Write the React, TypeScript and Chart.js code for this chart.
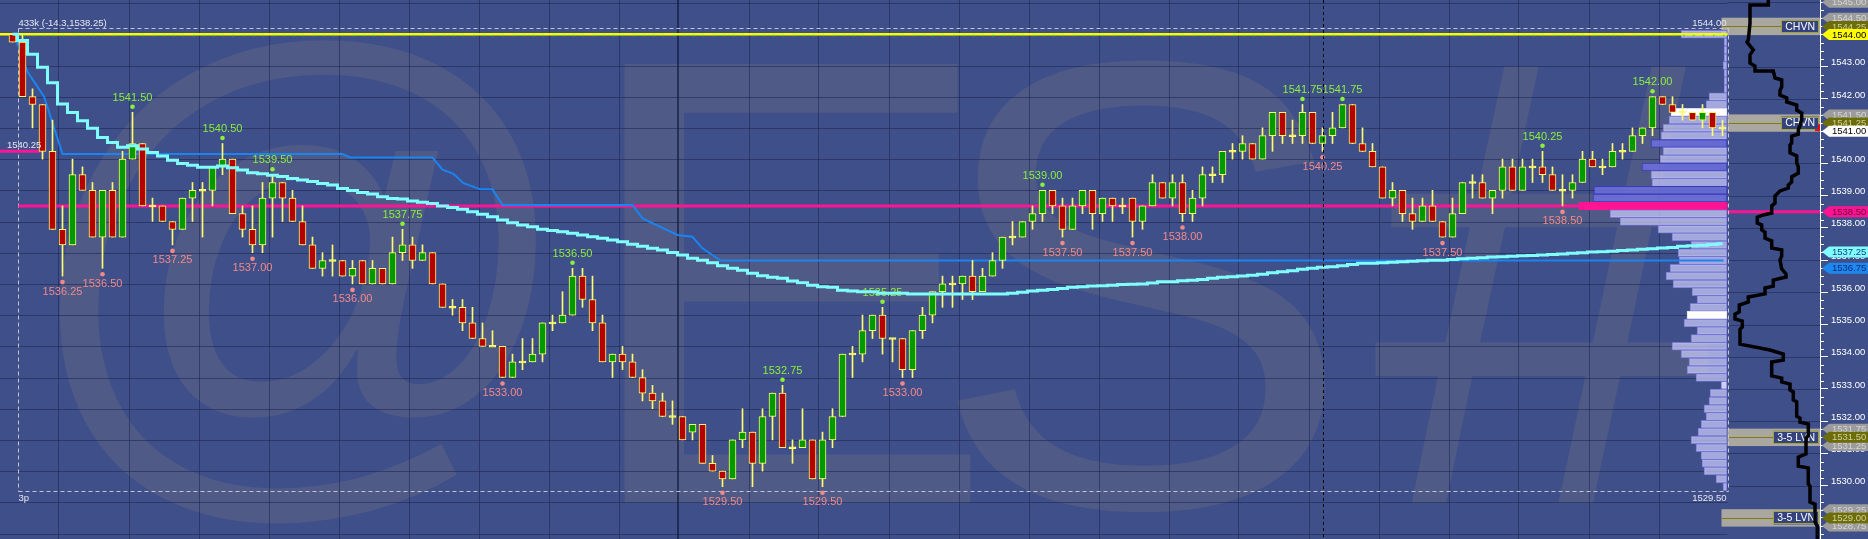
import React, { useEffect, useRef } from "react";
import { Chart, registerables } from "chart.js";
Chart.register(...registerables);

// ---------------- data ----------------
const opens = [
  1544, 1543.75, 1542, 1541.75, 1540.25, 1537.75, 1537.25, 1539.5, 1539, 1537.5,
  1539, 1537.5, 1540, 1540.5, 1538.5, 1538.5, 1538, 1537.75, 1538.75, 1539,
  1539, 1539.75, 1540, 1538.25, 1537.75, 1537.25, 1538.75, 1539.25, 1538.75, 1538,
  1537.25, 1536.5, 1536.75, 1536.75, 1536.25, 1536.75, 1536, 1536.5, 1536, 1537,
  1537.25, 1536.75, 1537, 1536, 1535.25, 1535.25, 1534.75, 1534.25, 1534, 1534,
  1533, 1533.5, 1533.5, 1533.75, 1534.75, 1534.75, 1535, 1536.25, 1535.5, 1534.75,
  1533.5, 1533.75, 1533.5, 1533, 1532.5, 1532.25, 1531.75, 1531.75, 1531.25, 1531.5,
  1530.25, 1530, 1529.75, 1531, 1531.25, 1530.25, 1531.75, 1532.5, 1530.75, 1530.75,
  1531, 1529.75, 1531, 1531.75, 1533.75, 1533.75, 1534.5, 1535, 1534.25, 1534.25,
  1533.25, 1534.5, 1535, 1535.75, 1536, 1536, 1536.25, 1535.75, 1536.25, 1536.75,
  1537.5, 1537.5, 1538, 1538.25, 1539, 1538.5, 1537.75, 1538.5, 1539, 1538.25,
  1538.75, 1538.5, 1538.75, 1538, 1538.5, 1539.25, 1538.75, 1539.25, 1538.25, 1538.75,
  1539.5, 1539.5, 1540.25, 1540.25, 1540.5, 1540, 1540.75, 1541.5, 1540.75, 1540.75,
  1541.5, 1540.5, 1540.75, 1541, 1541.75, 1540.5, 1540.25, 1539.75, 1538.75, 1539,
  1538.25, 1538, 1538.5, 1538, 1537.5, 1538.25, 1539.25, 1539.25, 1538.75, 1539,
  1539.75, 1539, 1539.75, 1539.75, 1539.5, 1539, 1539, 1539.25, 1540, 1539.75,
  1539.75, 1540.25, 1540.25, 1540.75, 1541, 1542, 1541.75, 1541.5, 1541.5, 1541.25,
  1541.5, 1541,
];
const highs = [
  1544, 1544, 1542.25, 1541.75, 1541.25, 1538.5, 1540, 1539.75, 1539.25, 1539,
  1539.25, 1540.25, 1541.5, 1540.5, 1538.75, 1538.5, 1538, 1538.75, 1539.25, 1539.25,
  1539.75, 1540.5, 1540, 1538.5, 1538.5, 1539.25, 1539.5, 1539.25, 1539, 1538.5,
  1537.5, 1537, 1537.25, 1536.75, 1536.75, 1536.75, 1536.75, 1536.5, 1537.5, 1537.75,
  1537.5, 1537.25, 1537, 1536, 1535.5, 1535.5, 1535.25, 1534.75, 1534.5, 1534,
  1533.75, 1534.25, 1534.25, 1534.75, 1535, 1535.75, 1536.5, 1536.5, 1536.25, 1535,
  1533.75, 1534, 1533.75, 1533.25, 1532.75, 1532.5, 1532.25, 1531.75, 1531.5, 1531.5,
  1530.5, 1530, 1531, 1532, 1531.25, 1532, 1532.5, 1532.75, 1531, 1532,
  1531, 1531.25, 1532, 1533.75, 1534, 1535, 1535, 1535.25, 1534.25, 1534.25,
  1534.5, 1535.25, 1535.75, 1536.25, 1536.25, 1536.25, 1536.75, 1536.5, 1537, 1537.5,
  1538, 1538, 1538.5, 1539, 1539, 1538.75, 1538.75, 1539, 1539, 1538.75,
  1538.75, 1538.75, 1538.75, 1538.5, 1539.5, 1539.25, 1539.5, 1539.5, 1539, 1539.75,
  1539.75, 1540.25, 1540.5, 1540.75, 1540.5, 1541, 1541.5, 1541.5, 1541.25, 1541.75,
  1541.5, 1541, 1541.5, 1541.75, 1541.75, 1541, 1540.5, 1539.75, 1539.25, 1539,
  1538.75, 1538.75, 1539, 1538, 1538.75, 1539.25, 1539.5, 1539.5, 1539, 1540,
  1540, 1540, 1540, 1540.25, 1539.75, 1539.5, 1539.5, 1540.25, 1540.25, 1540,
  1540.5, 1540.5, 1541, 1541, 1542, 1542, 1542, 1541.75, 1541.5, 1541.75,
  1541.5, 1541.25,
];
const lows = [
  1543.75, 1542, 1541, 1540, 1537.75, 1536.25, 1537.25, 1539, 1537.5, 1536.5,
  1537.5, 1537.5, 1540, 1538.5, 1538, 1538, 1537.25, 1537.75, 1538, 1537.5,
  1538.5, 1539.5, 1538.25, 1537.5, 1537, 1537, 1537.5, 1538, 1538, 1537.25,
  1536.5, 1536.25, 1536.25, 1536.25, 1536, 1536, 1536, 1536, 1536, 1536.75,
  1536.5, 1536.75, 1536, 1535.25, 1535, 1534.5, 1534.25, 1534, 1534, 1533,
  1533, 1533.25, 1533.5, 1533.5, 1534.5, 1534.75, 1535, 1535.25, 1534.5, 1533.5,
  1533, 1533.25, 1533, 1532.25, 1532, 1531.75, 1531.5, 1531, 1531, 1530.25,
  1530, 1529.5, 1529.75, 1530.75, 1529.5, 1530, 1531, 1530.75, 1530.25, 1530.75,
  1529.75, 1529.5, 1530.75, 1531.75, 1533, 1533.5, 1534.25, 1533.75, 1533.5, 1533,
  1533, 1534.25, 1534.75, 1535.25, 1535.25, 1535.5, 1535.5, 1535.75, 1536.25, 1536.5,
  1537.25, 1537.5, 1537.75, 1538, 1538.25, 1537.5, 1537.75, 1538.25, 1537.75, 1538,
  1538, 1538.25, 1537.5, 1537.75, 1538.5, 1538.75, 1538.5, 1538, 1538, 1538.5,
  1539.25, 1539.25, 1540, 1540, 1540, 1540, 1540.25, 1540.5, 1540.5, 1540.5,
  1540.5, 1540.25, 1540.5, 1541, 1540.5, 1540.25, 1539.75, 1538.75, 1538.5, 1538,
  1537.75, 1538, 1538, 1537.5, 1537.5, 1538.25, 1538.75, 1538.75, 1538.25, 1538.75,
  1539, 1539, 1539.25, 1539.25, 1539, 1538.5, 1538.75, 1539.25, 1539.75, 1539.5,
  1539.75, 1540, 1540.25, 1540.5, 1540.75, 1541.75, 1541.5, 1541.25, 1541.25, 1541,
  1540.75, 1540.75,
];
const closes = [
  1543.75, 1542, 1541.75, 1540.25, 1537.75, 1537.25, 1539.5, 1539, 1537.5, 1539,
  1537.5, 1540, 1540.5, 1538.5, 1538.5, 1538, 1537.75, 1538.75, 1539, 1539,
  1539.75, 1540, 1538.25, 1537.75, 1537.25, 1538.75, 1539.25, 1538.75, 1538, 1537.25,
  1536.5, 1536.75, 1536.75, 1536.25, 1536.5, 1536, 1536.5, 1536, 1537, 1537.25,
  1536.75, 1537, 1536, 1535.25, 1535.25, 1534.75, 1534.25, 1534, 1534, 1533,
  1533.5, 1533.5, 1533.75, 1534.75, 1534.75, 1535, 1536.25, 1535.5, 1534.75, 1533.5,
  1533.75, 1533.5, 1533, 1532.5, 1532.25, 1531.75, 1531.75, 1531, 1531.5, 1530.25,
  1530, 1529.75, 1531, 1531.25, 1530.25, 1531.75, 1532.5, 1530.75, 1530.75, 1531,
  1529.75, 1531, 1531.75, 1533.75, 1533.75, 1534.5, 1535, 1534.25, 1534.25, 1533.25,
  1534.5, 1535, 1535.75, 1536, 1536, 1536.25, 1535.75, 1536.25, 1536.75, 1537.5,
  1537.5, 1538, 1538.25, 1539, 1538.5, 1537.75, 1538.5, 1539, 1538.25, 1538.75,
  1538.5, 1538.5, 1538, 1538.5, 1539.25, 1538.75, 1539.25, 1538.25, 1538.75, 1539.5,
  1539.5, 1540.25, 1540.25, 1540.5, 1540, 1540.75, 1541.5, 1540.75, 1540.75, 1541.5,
  1540.5, 1540.75, 1541, 1541.75, 1540.5, 1540.25, 1539.75, 1538.75, 1539, 1538.25,
  1538, 1538.5, 1538, 1537.5, 1538.25, 1539.25, 1539.25, 1538.75, 1539, 1539.75,
  1539, 1539.75, 1539.75, 1539.5, 1539, 1539, 1539.25, 1540, 1539.75, 1539.75,
  1540.25, 1540.25, 1540.75, 1541, 1542, 1541.75, 1541.5, 1541.5, 1541.25, 1541.5,
  1541, 1541,
];

// VWAP (cyan stepped line), one value per bar
const vwap = [
  1544.0, 1543.8, 1543.36, 1542.94, 1542.45, 1541.77, 1541.49, 1541.23, 1540.99, 1540.69,
  1540.53, 1540.38, 1540.43, 1540.32, 1540.21, 1540.1, 1539.96, 1539.86, 1539.8, 1539.74,
  1539.74, 1539.78, 1539.72, 1539.65, 1539.56, 1539.53, 1539.48, 1539.44, 1539.38, 1539.33,
  1539.28, 1539.22, 1539.17, 1539.06, 1538.99, 1538.93, 1538.88, 1538.79, 1538.74, 1538.72,
  1538.66, 1538.62, 1538.58, 1538.5, 1538.45, 1538.39, 1538.31, 1538.23, 1538.15, 1538.05,
  1537.96, 1537.89, 1537.83, 1537.75, 1537.71, 1537.67, 1537.62, 1537.57, 1537.51, 1537.46,
  1537.41, 1537.35, 1537.27, 1537.21, 1537.14, 1537.09, 1537.01, 1536.93, 1536.82, 1536.76,
  1536.68, 1536.58, 1536.5, 1536.44, 1536.34, 1536.26, 1536.21, 1536.18, 1536.09, 1536.04,
  1535.96, 1535.91, 1535.89, 1535.8, 1535.77, 1535.75, 1535.75, 1535.7, 1535.7, 1535.7,
  1535.68, 1535.68, 1535.68, 1535.68, 1535.68, 1535.68, 1535.68, 1535.68, 1535.68, 1535.68,
  1535.7, 1535.73, 1535.77, 1535.8, 1535.82, 1535.85, 1535.89, 1535.91, 1535.93, 1535.94,
  1535.96, 1535.98, 1535.99, 1536.0, 1536.03, 1536.07, 1536.07, 1536.1, 1536.12, 1536.14,
  1536.18, 1536.21, 1536.23, 1536.25, 1536.28, 1536.31, 1536.36, 1536.39, 1536.42, 1536.47,
  1536.5, 1536.53, 1536.55, 1536.58, 1536.62, 1536.66, 1536.66, 1536.68, 1536.69, 1536.71,
  1536.73, 1536.74, 1536.76, 1536.76, 1536.78, 1536.81, 1536.82, 1536.84, 1536.86, 1536.87,
  1536.89, 1536.9, 1536.91, 1536.93, 1536.94, 1536.96, 1536.98, 1537.0, 1537.02, 1537.03,
  1537.05, 1537.07, 1537.09, 1537.11, 1537.13, 1537.15, 1537.17, 1537.21, 1537.22, 1537.24,
  1537.26, 1537.29,
];

// blue developing level line (bar index, price)
const blueIdx = [0.16, 1.5, 3.16, 5.0, 33.0, 33.8, 42.0, 43.0, 44.1, 45.1, 46.8, 48.0, 49.0, 62.0, 63.0, 66.5, 68.0, 69.0, 70.8, 171.1];
const bluePrice = [1544.0, 1542.8, 1542.0, 1540.16, 1540.16, 1540.05, 1540.05, 1539.66, 1539.53, 1539.23, 1539.03, 1539.03, 1538.53, 1538.53, 1538.1, 1537.57, 1537.51, 1537.14, 1536.75, 1536.75];

// horizontal reference levels
const overnightHigh = 1544.0;
const pocLevel = 1538.5;
const prevClose = 1540.25;

// swing labels
const highIdx = [12, 21, 26, 39, 56, 77, 87, 103, 129, 133, 153, 164];
const highVal = [1541.5, 1540.5, 1539.5, 1537.75, 1536.5, 1532.75, 1535.25, 1539.0, 1541.75, 1541.75, 1540.25, 1542.0];
const lowIdx = [5, 9, 16, 24, 34, 49, 71, 81, 89, 105, 112, 117, 131, 143, 155];
const lowVal = [1536.25, 1536.5, 1537.25, 1537.0, 1536.0, 1533.0, 1529.5, 1529.5, 1533.0, 1537.5, 1537.5, 1538.0, 1540.25, 1537.5, 1538.5];

// volume profile
const profPrices = [
  1544.0, 1543.75, 1543.5, 1543.25, 1543.0, 1542.75, 1542.5, 1542.25, 1542.0, 1541.75,
  1541.5, 1541.25, 1541.0, 1540.75, 1540.5, 1540.25, 1540.0, 1539.75, 1539.5, 1539.25,
  1539.0, 1538.75, 1538.5, 1538.25, 1538.0, 1537.75, 1537.5, 1537.25, 1537.0, 1536.75,
  1536.5, 1536.25, 1536.0, 1535.75, 1535.5, 1535.25, 1535.0, 1534.75, 1534.5, 1534.25,
  1534.0, 1533.75, 1533.5, 1533.25, 1533.0, 1532.75, 1532.5, 1532.25, 1532.0, 1531.75,
  1531.5, 1531.25, 1531.0, 1530.75, 1530.5, 1530.25, 1530.0, 1529.75, 1529.5,
];
const profVol = [
  46, 3, 3, 3, 4, 3, 3, 3, 18, 21,
  56, 58, 64, 66, 76, 64, 67, 85, 76, 75,
  133, 134, 148, 117, 107, 69, 55, 36, 49, 48,
  57, 61, 54, 35, 30, 37, 40, 43, 30, 36,
  55, 46, 38, 40, 31, 6, 17, 18, 23, 21,
  26, 29, 36, 31, 26, 25, 23, 11, 4,
];
const profDarkLevels = [1540.5, 1539.75, 1539.0, 1538.75];
const profWhiteLevels = [1541.5, 1535.0];
const profPaleLevels = [1532.75];

// TPO outline in the right panel (width count, price)
const tpoWidth = [
  41.3, 41.3, 23, 23, 21.3, 20, 26.3, 23, 23, 28, 28, 46.3, 48, 54.7, 54.7, 53, 53, 59.7, 59.7, 69.7,
  69.7, 74.7, 74.7, 73, 71.3, 71.3, 64.7, 64.7, 63, 63, 69.7, 69.7, 71.3, 71.3, 64.7, 64.7, 61.3, 61.3, 53, 48,
  48, 44.7, 44.7, 36.3, 30.3, 30.3, 34.7, 34.7, 38, 38, 44.7, 44.7, 54.7, 54.7, 53, 54.7, 59, 59, 46.3, 46.3,
  38, 38, 21.3, 21.3, 12.3, 12.3, 8, 8, 15.3, 15.3, 13, 13, 43, 56.3, 56.3, 44.7, 44.7, 54.7, 54.7, 63,
  63, 66.3, 66.3, 69.7, 69.7, 73, 73, 81.3, 81.3, 79, 79, 71.3, 71.3, 81.3, 81.3, 83, 83, 88, 88, 90.3, 90.3,
];
const tpoPrice = [
  1545.1, 1544.94, 1544.94, 1544.36, 1543.82, 1543.75, 1543.5, 1543.34, 1543.08, 1542.98, 1542.82, 1542.82, 1542.6, 1542.54, 1542.31, 1542.21, 1542.05, 1541.96, 1541.83, 1541.73,
  1541.57, 1541.48, 1541.25, 1541.09, 1540.93, 1540.8, 1540.74, 1540.52, 1540.45, 1540.2, 1540.1, 1539.88, 1539.75, 1539.55, 1539.43, 1539.27, 1539.17, 1539.07, 1538.98, 1538.82,
  1538.59, 1538.5, 1538.27, 1538.21, 1538.14, 1537.95, 1537.89, 1537.73, 1537.66, 1537.47, 1537.38, 1537.15, 1537.09, 1536.89, 1536.77, 1536.48, 1536.32, 1536.22, 1536.12, 1535.93,
  1535.87, 1535.68, 1535.58, 1535.42, 1535.32, 1535.1, 1535.03, 1534.88, 1534.81, 1534.62, 1534.55, 1534.07, 1533.88, 1533.75, 1533.56, 1533.5, 1533.05, 1532.98, 1532.86, 1532.79,
  1532.6, 1532.54, 1532.28, 1532.22, 1531.76, 1531.7, 1531.57, 1531.51, 1531.13, 1531.06, 1530.55, 1530.45, 1530.16, 1530.1, 1529.59, 1529.52, 1529.01, 1528.94, 1528.37, 1528.24, 1527.82,
];

// node bands in the right panel
const bandCenters = [1544.25, 1541.25, 1531.5, 1529.0];
const bandLabels = ["CHVN", "CHVN", "3-5 LVN", "3-5 LVN"];
const bandStartIdx = [170.9, 171.5, 171.5, 170.9];

// price tags on the right axis
const tagPrices = [1545.0, 1544.5, 1544.25, 1544.0, 1541.5, 1541.25, 1541.0, 1538.5, 1537.25, 1536.75, 1531.75, 1531.25, 1531.5, 1529.25, 1528.75, 1529.0];
const tagKinds = ["gray", "gray", "olive", "yellow", "gray", "olive", "last", "poc", "vwap", "blue", "gray", "gray", "olive", "gray", "gray", "olive"];

// time grid (bar index positions)
const gridTimes = [4.6, 11.6, 18.6, 25.6, 32.6, 39.6, 46.6, 53.6, 60.6, 73.6, 80.6, 87.6, 94.6, 101.6, 108.6, 115.6, 122.6, 129.6, 136.6, 143.6, 150.6, 157.6, 164.6];
const sessionBreak = 66.5;
const cursorIdx = 131;
const panelEdgeIdx = 171.5;

// range box
const boxStartIdx = 0.5;
const boxEndIdx = 171.5;
const boxHigh = 1544.0;
const boxLow = 1529.5;
const boxTitle = "433k (-14.3,1538.25)";
const boxTime = "3p";

// ---------------- styling ----------------
const FONT = '"Liberation Sans", Arial, sans-serif';
const BG = "#3f4f8a";
const WM = "#4f5a86";
const GRID = "rgba(28,36,78,0.55)";
const YEL = "#ffff70";

const TAG_STYLE: any = {
  gray: ["#9c9c9c", "#d6d6d6"],
  olive: ["#6c6c08", "#d0d0a0"],
  yellow: ["#ffff00", "#000000"],
  last: ["#ffffff", "#000000"],
  poc: ["#ff1493", "#6a0a38"],
  vwap: ["#80ffff", "#1c3c8c"],
  blue: ["#1e88f0", "#0c2c70"],
};

function seg(ctx: any, x0: number, y0: number, x1: number, y1: number) {
  ctx.beginPath();
  ctx.moveTo(x0, y0);
  ctx.lineTo(x1, y1);
  ctx.stroke();
}

const decorPlugin = {
  id: "decor",
  beforeDraw(chart: any) {
    const { ctx, width, height } = chart;
    ctx.save();
    ctx.fillStyle = BG;
    ctx.fillRect(0, 0, width, height);
    ctx.fillStyle = WM;
    ctx.textAlign = "center";
    ctx.textBaseline = "alphabetic";
    ctx.font = `560px ${FONT}`;
    ctx.fillText("@", 300, 446);
    ctx.font = `638px ${FONT}`;
    ctx.fillText("E", 785, 503);
    ctx.fillText("S", 1141, 506);
    ctx.fillText("#", 1550, 503);
    ctx.restore();
  },
  beforeDatasetsDraw(chart: any) {
    const { ctx, chartArea: ca, scales } = chart;
    const xs = scales.x, ys = scales.y, yr = scales.yR;
    const panelX = xs.getPixelForValue(panelEdgeIdx);
    ctx.save();
    ctx.lineWidth = 1;
    ctx.strokeStyle = GRID;
    for (let p = Math.ceil(ys.min); p <= ys.max; p++) {
      const y = Math.round(ys.getPixelForValue(p)) + 0.5;
      seg(ctx, ca.left, y, panelX, y);
    }
    for (const t of gridTimes) {
      const x = Math.round(xs.getPixelForValue(t)) + 0.5;
      seg(ctx, x, ca.top, x, ca.bottom);
    }
    ctx.strokeStyle = "rgba(22,28,66,0.7)";
    ctx.lineWidth = 2;
    const sx = Math.round(xs.getPixelForValue(sessionBreak));
    seg(ctx, sx, ca.top, sx, ca.bottom);
    // right panel grid
    ctx.lineWidth = 1;
    ctx.strokeStyle = GRID;
    for (let p = Math.ceil(yr.min); p <= yr.max; p++) {
      const y = Math.round(yr.getPixelForValue(p)) + 0.5;
      seg(ctx, panelX, y, ca.right, y);
    }
    // POC extension in right panel
    ctx.strokeStyle = "#ff1493";
    ctx.lineWidth = 3;
    const py = yr.getPixelForValue(pocLevel);
    seg(ctx, panelX, py, ca.right, py);
    // bands
    ctx.font = `10.5px ${FONT}`;
    ctx.textBaseline = "middle";
    ctx.textAlign = "center";
    bandCenters.forEach((c, k) => {
      const x0 = xs.getPixelForValue(bandStartIdx[k]);
      const y0 = yr.getPixelForValue(c + 0.27);
      const y1 = yr.getPixelForValue(c - 0.27);
      ctx.fillStyle = "rgba(176,172,162,0.95)";
      ctx.fillRect(x0, y0, ca.right - x0, y1 - y0);
      const yc = yr.getPixelForValue(c);
      const w = ctx.measureText(bandLabels[k]).width + 8;
      const bx = ca.right - 1 - w;
      ctx.strokeStyle = "#7c7c10";
      ctx.lineWidth = 1;
      seg(ctx, x0, Math.round(yc) + 0.5, bx, Math.round(yc) + 0.5);
      ctx.fillStyle = "#34437e";
      ctx.fillRect(bx, yc - 6.5, w, 13);
      ctx.strokeStyle = "#a2a23a";
      ctx.strokeRect(Math.round(bx) + 0.5, Math.round(yc - 6.5) + 0.5, Math.round(w) - 1, 12);
      ctx.fillStyle = "#ffffff";
      ctx.fillText(bandLabels[k], bx + w / 2, yc + 0.5);
    });
    // range box
    const bx0 = Math.round(xs.getPixelForValue(boxStartIdx)) + 0.5;
    const bx1 = Math.round(xs.getPixelForValue(boxEndIdx)) + 0.5;
    const by0 = Math.round(ys.getPixelForValue(boxHigh) - 6) + 0.5;
    const by1 = Math.round(ys.getPixelForValue(boxLow) + 4.5) + 0.5;
    ctx.setLineDash([4, 3]);
    ctx.strokeStyle = "#c4c4d4";
    ctx.lineWidth = 1;
    seg(ctx, bx0, by0, bx1, by0);
    seg(ctx, bx0, by1, bx1, by1);
    seg(ctx, bx0, by0, bx0, by1);
    seg(ctx, bx1, by0, bx1, by1);
    ctx.setLineDash([]);
    // swing labels (under the studies)
    ctx.font = `11px ${FONT}`;
    ctx.textAlign = "center";
    ctx.textBaseline = "middle";
    highIdx.forEach((i, k) => {
      const x = xs.getPixelForValue(i);
      const y = ys.getPixelForValue(highVal[k]);
      ctx.fillStyle = "#8af03c";
      ctx.beginPath();
      ctx.arc(x, y - 5.5, 2.3, 0, Math.PI * 2);
      ctx.fill();
      ctx.fillText(highVal[k].toFixed(2), x, y - 14.5);
    });
    lowIdx.forEach((i, k) => {
      const x = xs.getPixelForValue(i);
      const y = ys.getPixelForValue(lowVal[k]);
      ctx.fillStyle = "#f28a8a";
      ctx.beginPath();
      ctx.arc(x, y + 6, 2.3, 0, Math.PI * 2);
      ctx.fill();
      ctx.fillText(lowVal[k].toFixed(2), x, y + 15.5);
    });
    ctx.restore();
  },
  afterDatasetsDraw(chart: any) {
    const { ctx, chartArea: ca, scales } = chart;
    const xs = scales.x, ys = scales.y;
    ctx.save();
    // cursor line
    ctx.strokeStyle = "#000000";
    ctx.setLineDash([3, 3]);
    ctx.lineWidth = 1;
    const cx = Math.round(xs.getPixelForValue(cursorIdx)) + 0.5;
    seg(ctx, cx, ca.top, cx, ca.bottom);
    ctx.setLineDash([]);
    // green ticks along overnight high
    ctx.fillStyle = "#30e030";
    const gy = ys.getPixelForValue(overnightHigh);
    for (let i = 1; i < opens.length; i++) {
      ctx.fillRect(Math.round(xs.getPixelForValue(i)), gy + 0.5, 1.5, 1.5);
    }
    // texts
    ctx.font = `9.5px ${FONT}`;
    ctx.fillStyle = "#e6e6f0";
    ctx.textAlign = "left";
    ctx.textBaseline = "middle";
    const bx0 = xs.getPixelForValue(boxStartIdx);
    const bx1 = xs.getPixelForValue(boxEndIdx);
    const by0 = ys.getPixelForValue(boxHigh) - 6;
    const by1 = ys.getPixelForValue(boxLow) + 4.5;
    ctx.fillText(boxTitle, bx0 + 1, by0 - 5);
    ctx.fillText(boxTime, bx0 + 1, by1 + 7);
    ctx.textAlign = "right";
    ctx.fillText(boxHigh.toFixed(2), bx1 - 1, by0 - 5);
    ctx.fillText(boxLow.toFixed(2), bx1 - 1, by1 + 7);
    ctx.textAlign = "left";
    ctx.fillText(prevClose.toFixed(2), 7, ys.getPixelForValue(prevClose) - 6);
    ctx.restore();
  },
  afterDraw(chart: any) {
    const { ctx, chartArea: ca, scales, width } = chart;
    const yr = scales.yR;
    ctx.save();
    // minor ticks
    ctx.strokeStyle = "#ffffff";
    ctx.lineWidth = 1;
    for (let q = Math.ceil(yr.min * 4); q <= yr.max * 4; q++) {
      if (q % 4 === 0) continue;
      const y = Math.round(yr.getPixelForValue(q / 4)) + 0.5;
      seg(ctx, ca.right, y, ca.right + 4, y);
    }
    // tags
    ctx.font = `9.5px ${FONT}`;
    ctx.textAlign = "left";
    ctx.textBaseline = "middle";
    tagPrices.forEach((p, k) => {
      const [bg, fg] = TAG_STYLE[tagKinds[k]];
      const y = yr.getPixelForValue(p);
      const tip = ca.right + 2;
      const sh = ca.right + 9;
      ctx.fillStyle = bg;
      ctx.beginPath();
      ctx.moveTo(tip, y);
      ctx.lineTo(sh, y - 5.5);
      ctx.lineTo(width, y - 5.5);
      ctx.lineTo(width, y + 5.5);
      ctx.lineTo(sh, y + 5.5);
      ctx.closePath();
      ctx.fill();
      ctx.fillStyle = fg;
      ctx.fillText(p.toFixed(2), sh + 3, y + 0.5);
      if (tagKinds[k] === "last") {
        ctx.fillStyle = "#e01010";
        ctx.fillRect(ca.right - 2, y - 7, 2, 7);
        ctx.fillRect(ca.right - 5, y - 2, 5, 2);
      }
    });
    ctx.restore();
  },
};

export default function App() {
  const ref = useRef<HTMLCanvasElement>(null);
  useEffect(() => {
    document.body.style.margin = "0";
    const canvas = ref.current as HTMLCanvasElement;
    const idx = opens.map((_, i) => i);

    const bodyData = idx.map((i) => {
      const o = opens[i], c = closes[i];
      return { x: i, y: o === c ? [o - 0.03, o + 0.03] : [o, c] };
    });
    const bodyColors = idx.map((i) =>
      closes[i] > opens[i] ? "#009a00" : closes[i] < opens[i] ? "#b40000" : YEL
    );
    const wickData = idx.map((i) => ({ x: i, y: [lows[i], highs[i]] }));

    const profFill = profPrices.map((p) =>
      p === pocLevel
        ? "#ff1493"
        : profWhiteLevels.includes(p)
        ? "#ffffff"
        : profDarkLevels.includes(p)
        ? "rgba(112,114,226,0.8)"
        : profPaleLevels.includes(p)
        ? "rgba(228,228,255,0.85)"
        : "rgba(202,204,250,0.72)"
    );
    const profBorder = profPrices.map((p) =>
      p === pocLevel
        ? "#ff1493"
        : profWhiteLevels.includes(p)
        ? "#d8d8f0"
        : profDarkLevels.includes(p)
        ? "#3a3cb0"
        : "rgba(120,120,212,0.95)"
    );

    const config: any = {
      type: "bar",
      data: {
        datasets: [
          {
            type: "bar",
            indexAxis: "y",
            xAxisID: "xVol",
            yAxisID: "y",
            data: profPrices.map((p, k) => ({ x: profVol[k], y: p })),
            backgroundColor: profFill,
            borderColor: profBorder,
            borderWidth: 1,
            borderSkipped: false,
            barThickness: 7.8,
            grouped: false,
            order: 20,
          },
          {
            type: "line",
            xAxisID: "x",
            yAxisID: "y",
            data: [
              { x: -1.25, y: overnightHigh },
              { x: panelEdgeIdx, y: overnightHigh },
            ],
            borderColor: "#ffff00",
            borderWidth: 2.5,
            pointRadius: 0,
            order: 16,
          },
          {
            type: "line",
            xAxisID: "x",
            yAxisID: "y",
            data: [
              { x: 0.6, y: pocLevel },
              { x: panelEdgeIdx, y: pocLevel },
            ],
            borderColor: "#ff1493",
            borderWidth: 3,
            pointRadius: 0,
            order: 15,
          },
          {
            type: "line",
            xAxisID: "x",
            yAxisID: "y",
            data: [
              { x: -1.25, y: prevClose },
              { x: 2.8, y: prevClose },
            ],
            borderColor: "#ff1493",
            borderWidth: 3,
            pointRadius: 0,
            order: 15,
          },
          {
            type: "line",
            xAxisID: "x",
            yAxisID: "y",
            data: blueIdx.map((x, k) => ({ x, y: bluePrice[k] })),
            borderColor: "#1a84f0",
            borderWidth: 2,
            pointRadius: 0,
            order: 14,
          },
          {
            type: "bar",
            xAxisID: "x",
            yAxisID: "y",
            data: wickData,
            backgroundColor: YEL,
            borderWidth: 0,
            barThickness: 1,
            grouped: false,
            order: 6,
          },
          {
            type: "bar",
            xAxisID: "x",
            yAxisID: "y",
            data: bodyData,
            backgroundColor: bodyColors,
            borderColor: YEL,
            borderWidth: 1,
            borderSkipped: false,
            barThickness: 7,
            grouped: false,
            order: 5,
          },
          {
            type: "line",
            xAxisID: "x",
            yAxisID: "y",
            data: vwap.map((v, i) => ({ x: i, y: v })),
            borderColor: "#80ffff",
            borderWidth: 3,
            pointRadius: 0,
            stepped: "middle",
            order: 4,
          },
          {
            type: "line",
            xAxisID: "xT",
            yAxisID: "y",
            data: tpoWidth.map((w, k) => ({ x: w, y: tpoPrice[k] })),
            borderColor: "#000000",
            borderWidth: 3.5,
            pointRadius: 0,
            borderJoinStyle: "miter",
            order: 3,
          },
        ],
      },
      options: {
        responsive: false,
        animation: false,
        devicePixelRatio: 1,
        events: [],
        layout: { padding: 0 },
        plugins: { legend: { display: false }, tooltip: { enabled: false } },
        scales: {
          x: { type: "linear", display: false, offset: false, min: -1.25, max: 180.75 },
          xVol: { type: "linear", axis: "x", display: false, offset: false, reverse: true, min: -93, max: 1727 },
          xT: { type: "linear", axis: "x", display: false, offset: false, min: -1727, max: 93 },
          y: { type: "linear", display: false, offset: false, beginAtZero: false, min: 1527.8238, max: 1545.0994 },
          yR: {
            type: "linear",
            axis: "y",
            position: "right",
            offset: false,
            beginAtZero: false,
            min: 1528.3459,
            max: 1545.0695,
            afterFit: (s: any) => {
              s.width = 48;
              s.paddingTop = 0;
              s.paddingBottom = 0;
            },
            border: { display: true, color: "#ffffff", width: 1 },
            grid: {
              drawOnChartArea: false,
              drawTicks: true,
              tickLength: 8,
              tickColor: "#ffffff",
            },
            ticks: {
              stepSize: 1,
              includeBounds: false,
              padding: 3,
              labelOffset: -4,
              color: "#ffffff",
              font: { family: FONT, size: 9.5 },
              callback: (v: any) => (Number.isInteger(v) ? Number(v).toFixed(2) : ""),
            },
          },
        },
      },
      plugins: [decorPlugin],
    };
    const chart = new Chart(canvas, config);
    return () => chart.destroy();
  }, []);

  return (
    <div style={{ width: 1868, height: 539 }}>
      <canvas ref={ref} width={1868} height={539} style={{ display: "block" }} />
    </div>
  );
}
